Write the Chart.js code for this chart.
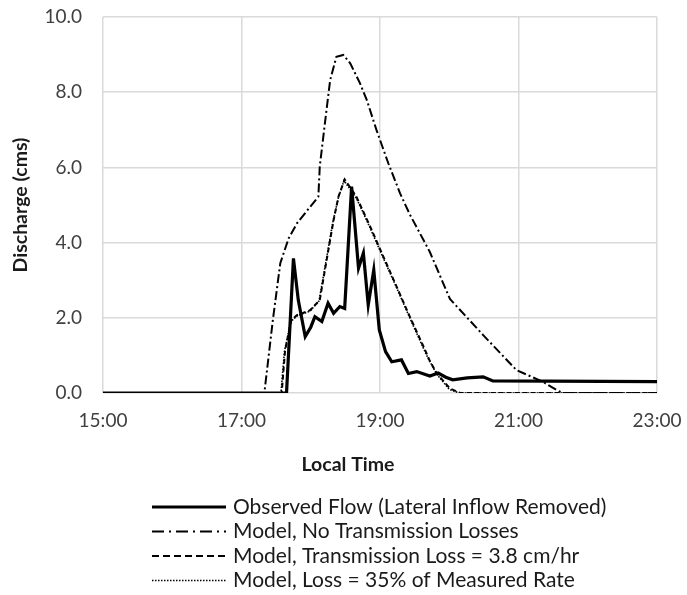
<!DOCTYPE html>
<html>
<head>
<meta charset="utf-8">
<script src="https://cdn.jsdelivr.net/npm/chart.js@4.4.0/dist/chart.umd.min.js"></script>
<style>
  html, body { margin: 0; padding: 0; background: #fff; }
</style>
</head>
<body>
<canvas id="flow-chart" width="687" height="595"></canvas>
<script>
// time in decimal hours, discharge in cms
var xTicks = [15, 17, 19, 21, 23];
var xTickLabels = ['15:00', '17:00', '19:00', '21:00', '23:00'];
var yTicks = [0, 2, 4, 6, 8, 10];

var obsTime = [15.0, 17.65, 17.75, 17.82, 17.92, 18.0, 18.06, 18.16, 18.25, 18.33, 18.42, 18.49, 18.59,
  18.69, 18.76, 18.83, 18.91, 18.99, 19.08, 19.17, 19.31, 19.41, 19.53, 19.72, 19.84, 19.95, 20.05,
  20.26, 20.49, 20.63, 23.0];
var obsFlow = [0, 0, 3.58, 2.47, 1.5, 1.75, 2.03, 1.9, 2.39, 2.12, 2.3, 2.25, 5.49,
  3.32, 3.72, 2.34, 3.27, 1.68, 1.1, 0.83, 0.88, 0.52, 0.57, 0.45, 0.53, 0.42, 0.35,
  0.4, 0.43, 0.32, 0.3];

var noLossTime = [15.0, 17.33, 17.45, 17.56, 17.68, 17.8, 17.99, 18.11, 18.13, 18.21, 18.28, 18.37, 18.47,
  18.57, 18.71, 18.81, 18.95, 19.12, 19.29, 19.43, 19.72, 20.01, 20.49, 20.97, 21.35, 21.55, 21.64, 23.0];
var noLossFlow = [0, 0, 1.9, 3.45, 4.11, 4.51, 4.95, 5.22, 6.02, 7.26, 8.32, 8.94, 8.99,
  8.77, 8.24, 7.79, 6.99, 6.11, 5.31, 4.75, 3.75, 2.5, 1.54, 0.61, 0.3, 0.08, 0, 0];

var tlTime = [15.0, 17.58, 17.63, 17.72, 17.8, 17.99, 18.13, 18.23, 18.33, 18.4, 18.49, 18.66, 18.86,
  19.05, 19.24, 19.43, 19.63, 19.72, 19.82, 20.01, 20.16, 23.0];
var tlFlow = [0, 0, 1.14, 1.94, 2.07, 2.2, 2.47, 3.54, 4.6, 5.22, 5.68, 5.22, 4.42,
  3.62, 2.83, 2.03, 1.23, 0.85, 0.52, 0.12, 0, 0];

var pctTime = [15.0, 17.57, 17.62, 17.71, 17.8, 17.99, 18.12, 18.22, 18.32, 18.4, 18.48, 18.66, 18.86,
  19.05, 19.24, 19.43, 19.6, 19.7, 19.82, 20.0, 20.14, 23.0];
var pctFlow = [0, 0, 1.1, 1.9, 2.05, 2.18, 2.45, 3.5, 4.55, 5.2, 5.65, 5.18, 4.38,
  3.58, 2.8, 2.0, 1.3, 0.9, 0.5, 0.1, 0, 0];

function toPoints(times, values) {
    return times.map((t, i) => ({ x: t, y: values[i] }));
}

// legend drawn as a column under the plot, plus the x title (sits left of centre in the original)
const legendRows = {
    id: 'legendRows',
    afterDraw(chart) {
        const ctx = chart.ctx;
        const area = chart.chartArea;
        ctx.save();
        ctx.fillStyle = '#1a1a1a';
        ctx.font = 'bold 19.5px Lato';
        ctx.textAlign = 'center';
        ctx.textBaseline = 'middle';
        ctx.fillText('Local Time', 348, area.bottom + 72);
        ctx.restore();

        const top = area.bottom + 114;
        chart.data.datasets.forEach((ds, i) => {
            const y = top + i * 24.5;
            ctx.save();
            ctx.strokeStyle = ds.borderColor;
            ctx.lineWidth = ds.borderWidth;
            ctx.setLineDash(ds.legendDash || ds.borderDash || []);
            ctx.beginPath();
            ctx.moveTo(152, y);
            ctx.lineTo(226, y);
            ctx.stroke();
            ctx.setLineDash([]);
            ctx.fillStyle = '#1a1a1a';
            ctx.font = '21px Lato';
            ctx.textBaseline = 'middle';
            ctx.fillText(ds.label, 233, y);
            ctx.restore();
        });
    }
};

const tickFont = { family: 'Lato', size: 19 };

function noPadding(s) {
    s.paddingTop = 0;
    s.paddingBottom = 0;
    s.paddingLeft = 0;
    s.paddingRight = 0;
}

new Chart(document.getElementById('flow-chart'), {
    type: 'line',
    data: {
        datasets: [{
            label: 'Observed Flow (Lateral Inflow Removed)',
            data: toPoints(obsTime, obsFlow),
            borderColor: '#000',
            borderWidth: 3.2,
            borderDash: []
        }, {
            label: 'Model, No Transmission Losses',
            data: toPoints(noLossTime, noLossFlow),
            borderColor: '#000',
            borderWidth: 2,
            borderDash: [9, 3, 2, 3],
            legendDash: [12, 5, 2, 5]
        }, {
            label: 'Model, Transmission Loss = 3.8 cm/hr',
            data: toPoints(tlTime, tlFlow),
            borderColor: '#000',
            borderWidth: 2,
            borderDash: [5, 3],
            legendDash: [7, 4]
        }, {
            label: 'Model, Loss = 35% of Measured Rate',
            data: toPoints(pctTime, pctFlow),
            borderColor: '#000',
            borderWidth: 1.6,
            borderDash: [1.5, 1.5]
        }]
    },
    options: {
        responsive: false,
        animation: false,
        elements: { point: { radius: 0 }, line: { tension: 0 } },
        layout: { padding: { top: 17, right: 30, bottom: 107, left: 0 } },
        plugins: { legend: { display: false }, tooltip: { enabled: false } },
        scales: {
            x: {
                type: 'linear',
                min: xTicks[0],
                max: xTicks[xTicks.length - 1],
                afterBuildTicks: axis => { axis.ticks = xTicks.map(v => ({ value: v })); },
                afterFit: s => { s.height = 95; noPadding(s); },
                ticks: {
                    callback: v => xTickLabels[xTicks.indexOf(v)],
                    padding: 16,
                    font: tickFont,
                    color: '#404040',
                    maxRotation: 0
                },
                grid: { color: '#dadada', lineWidth: 1.5, drawTicks: false },
                border: { display: false }
            },
            y: {
                min: yTicks[0],
                max: yTicks[yTicks.length - 1],
                afterBuildTicks: axis => { axis.ticks = yTicks.map(v => ({ value: v })); },
                afterFit: s => { s.width = 103; noPadding(s); },
                ticks: {
                    callback: v => v.toFixed(1),
                    padding: 21,
                    font: tickFont,
                    color: '#404040'
                },
                grid: { color: '#dadada', lineWidth: 1.5, drawTicks: false },
                border: { display: false },
                title: {
                    display: true,
                    text: 'Discharge (cms)',
                    font: { family: 'Lato', size: 19.5, weight: 'bold' },
                    color: '#1a1a1a',
                    padding: { top: 9, bottom: 0 }
                }
            }
        }
    },
    plugins: [legendRows]
});
</script>
</body>
</html>
